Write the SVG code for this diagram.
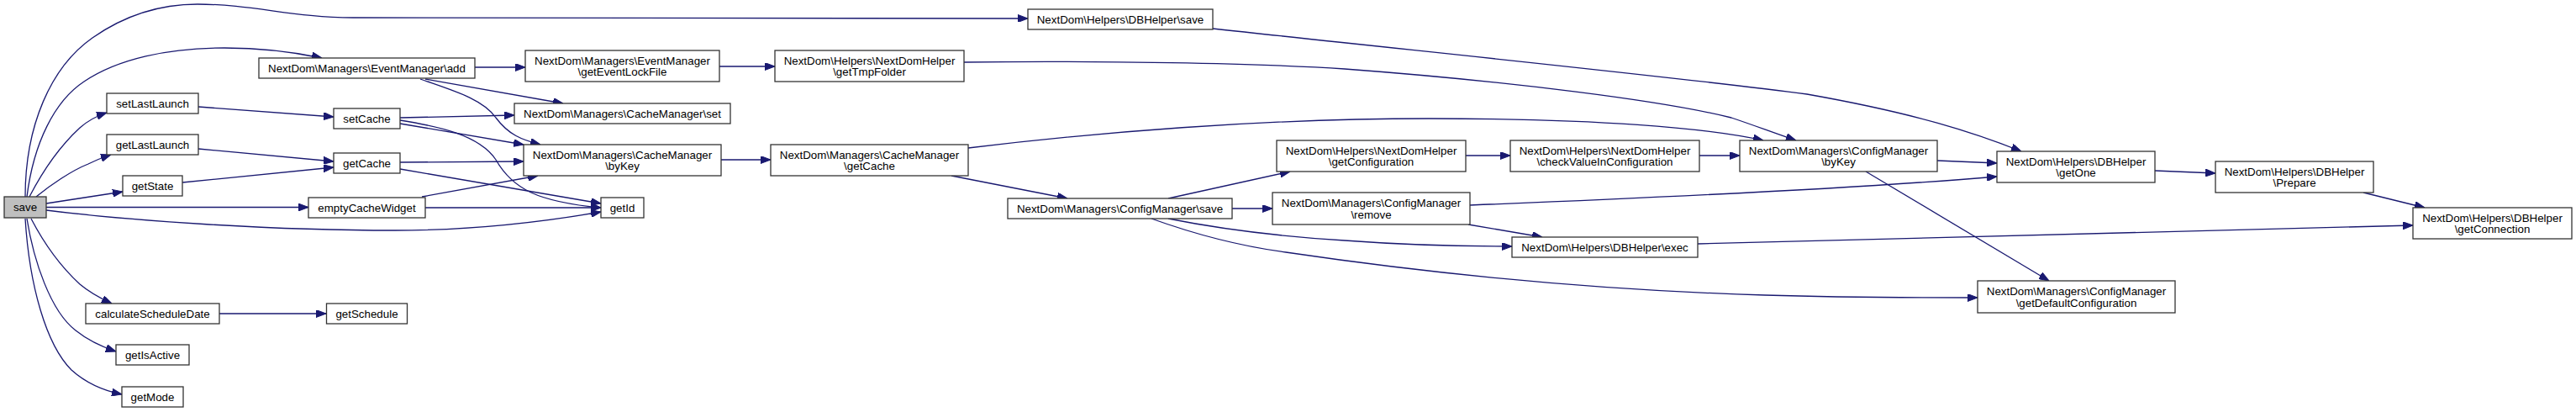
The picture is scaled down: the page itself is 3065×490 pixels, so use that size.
<svg xmlns="http://www.w3.org/2000/svg" width="3065" height="490" viewBox="0 0 3065 490">
<style>
.n rect{fill:#fff;stroke:#333;stroke-width:1.3}
.n.root rect{fill:#bfbfbf}
.n text{font-family:"Liberation Sans",Arial,Helvetica,sans-serif;font-size:13.33px;text-anchor:middle;fill:#000}
.e path{fill:none;stroke:#191970;stroke-width:1.3;marker-end:url(#a)}
</style>
<defs>
<marker id="a" markerWidth="12" markerHeight="9" refX="12" refY="4.5" orient="auto" markerUnits="userSpaceOnUse">
<path d="M0,0 L12,4.5 L0,9 z" fill="#191970" stroke="#191970" stroke-width="1"/>
</marker>
</defs>
<rect width="3065" height="490" fill="#fff"/>
<g id="edges" class="e">
<path d="M30,234 C30,150 60,80 110,45 C150,17 190,5 235,5 C300,5 350,21 420,21 L1223,22"/>
<path d="M32,234 C40,170 65,120 100,97 C140,70 200,57 267,57 C310,57 350,62 383,69"/>
<path d="M35,234 C50,205 70,175 95,152 C105,143 115,138 127,134"/>
<path d="M43,234 C60,220 85,203 105,195 C115,190 123,187 132,184"/>
<path d="M55,242 L146,228"/>
<path d="M55,246.5 L367,246.5"/>
<path d="M55,250 C150,262 320,274 470,274 C560,274 640,265 715,252"/>
<path d="M37,260 C50,285 70,315 95,338 C108,349 120,355 133,361"/>
<path d="M32,260 C40,310 60,370 90,393 C105,405 120,412 138,418"/>
<path d="M30,260 C35,340 55,410 85,440 C105,458 125,465 145,469"/>
<path d="M236,127 L397,139"/>
<path d="M236,177 L397,192"/>
<path d="M217,217 L397,199"/>
<path d="M261,373 L388,373"/>
<path d="M565,80 L625,80"/>
<path d="M506,94 L670,123"/>
<path d="M500,94 C540,108 575,118 590,140 C605,160 620,166 643,172"/>
<path d="M476,140 L612,137"/>
<path d="M476,147 L623,172"/>
<path d="M476,143 C520,150 570,160 590,190 C610,225 640,240 715,247"/>
<path d="M476,193 L623,192"/>
<path d="M476,201 L715,242"/>
<path d="M502,234 L640,209"/>
<path d="M506,247 L715,247"/>
<path d="M858,190 L917,190"/>
<path d="M856,79 L922,79"/>
<path d="M1147,74 C1300,72 1500,75 1600,82 C1800,97 1980,120 2060,140 C2090,150 2110,158 2137,167"/>
<path d="M1152,176 C1300,158 1500,141 1700,141 C1900,141 2030,152 2098,167"/>
<path d="M1132,209 L1270,236"/>
<path d="M1443,34 C1700,62 2000,92 2150,112 C2280,135 2350,158 2405,180"/>
<path d="M1390,236 L1535,204"/>
<path d="M1466,248 L1514,248"/>
<path d="M1390,260 C1450,272 1520,281 1600,286 C1680,292 1740,293 1799,293"/>
<path d="M1370,260 C1420,278 1470,292 1530,300 C1700,325 1900,345 2100,351 C2200,354 2280,354 2353,354"/>
<path d="M1744,185 L1797,185"/>
<path d="M2022,185 L2070,185"/>
<path d="M1749,244 C1950,236 2200,225 2376,210"/>
<path d="M1747,267 L1835,282"/>
<path d="M2020,290 L2871,268"/>
<path d="M2305,191 L2376,194"/>
<path d="M2220,204 L2438,334"/>
<path d="M2564,203 L2636,206"/>
<path d="M2812,229 L2885,247"/>
</g>
<g id="n_save" class="n root"><rect x="5" y="234" width="50" height="25"/><text x="30" y="251">save</text></g>
<g id="n_setLastLaunch" class="n"><rect x="127" y="111" width="109" height="24"/><text x="181.5" y="127.5">setLastLaunch</text></g>
<g id="n_getLastLaunch" class="n"><rect x="127" y="160" width="109" height="24"/><text x="181.5" y="176.5">getLastLaunch</text></g>
<g id="n_getState" class="n"><rect x="146" y="209" width="71" height="24"/><text x="181.5" y="225.5">getState</text></g>
<g id="n_calculateScheduleDate" class="n"><rect x="102" y="361" width="159" height="24"/><text x="181.5" y="377.5">calculateScheduleDate</text></g>
<g id="n_getIsActive" class="n"><rect x="138" y="410" width="87" height="24"/><text x="181.5" y="426.5">getIsActive</text></g>
<g id="n_getMode" class="n"><rect x="145" y="460" width="73" height="24"/><text x="181.5" y="476.5">getMode</text></g>
<g id="n_em_add" class="n"><rect x="308" y="69" width="257" height="24"/><text x="436.5" y="85.5">NextDom\Managers\EventManager\add</text></g>
<g id="n_setCache" class="n"><rect x="397" y="129" width="79" height="24"/><text x="436.5" y="145.5">setCache</text></g>
<g id="n_getCache" class="n"><rect x="397" y="182" width="79" height="24"/><text x="436.5" y="198.5">getCache</text></g>
<g id="n_emptyCacheWidget" class="n"><rect x="367" y="235" width="139" height="24"/><text x="436.5" y="251.5">emptyCacheWidget</text></g>
<g id="n_getSchedule" class="n"><rect x="388.5" y="361" width="96" height="24"/><text x="436.5" y="377.5">getSchedule</text></g>
<g id="n_em_getEventLockFile" class="n"><rect x="625" y="60" width="231" height="37"/><text x="740.5" y="76.5">NextDom\Managers\EventManager</text><text x="740.5" y="90">\getEventLockFile</text></g>
<g id="n_cm_set" class="n"><rect x="612" y="123" width="257" height="24"/><text x="740.5" y="139.5">NextDom\Managers\CacheManager\set</text></g>
<g id="n_cm_byKey" class="n"><rect x="623" y="172" width="235" height="37"/><text x="740.5" y="188.5">NextDom\Managers\CacheManager</text><text x="740.5" y="202">\byKey</text></g>
<g id="n_getId" class="n"><rect x="715" y="235" width="51" height="24"/><text x="740.5" y="251.5">getId</text></g>
<g id="n_ndh_getTmpFolder" class="n"><rect x="922" y="60" width="225" height="37"/><text x="1034.5" y="76.5">NextDom\Helpers\NextDomHelper</text><text x="1034.5" y="90">\getTmpFolder</text></g>
<g id="n_cm_getCache" class="n"><rect x="917" y="172" width="235" height="37"/><text x="1034.5" y="188.5">NextDom\Managers\CacheManager</text><text x="1034.5" y="202">\getCache</text></g>
<g id="n_db_save" class="n"><rect x="1223" y="11" width="220" height="24"/><text x="1333" y="27.5">NextDom\Helpers\DBHelper\save</text></g>
<g id="n_cfg_save" class="n"><rect x="1199" y="236" width="267" height="24"/><text x="1332.5" y="252.5">NextDom\Managers\ConfigManager\save</text></g>
<g id="n_ndh_getConfiguration" class="n"><rect x="1519" y="167" width="225" height="37"/><text x="1631.5" y="183.5">NextDom\Helpers\NextDomHelper</text><text x="1631.5" y="197">\getConfiguration</text></g>
<g id="n_cfg_remove" class="n"><rect x="1514" y="229" width="235" height="38"/><text x="1631.5" y="246">NextDom\Managers\ConfigManager</text><text x="1631.5" y="259.5">\remove</text></g>
<g id="n_ndh_checkValue" class="n"><rect x="1797" y="167" width="225" height="37"/><text x="1909.5" y="183.5">NextDom\Helpers\NextDomHelper</text><text x="1909.5" y="197">\checkValueInConfiguration</text></g>
<g id="n_db_exec" class="n"><rect x="1799" y="282" width="221" height="24"/><text x="1909.5" y="298.5">NextDom\Helpers\DBHelper\exec</text></g>
<g id="n_cfg_byKey" class="n"><rect x="2070" y="167" width="235" height="37"/><text x="2187.5" y="183.5">NextDom\Managers\ConfigManager</text><text x="2187.5" y="197">\byKey</text></g>
<g id="n_db_getOne" class="n"><rect x="2376" y="180" width="188" height="37"/><text x="2470" y="196.5">NextDom\Helpers\DBHelper</text><text x="2470" y="210">\getOne</text></g>
<g id="n_cfg_getDefault" class="n"><rect x="2353" y="334" width="235" height="38"/><text x="2470.5" y="351">NextDom\Managers\ConfigManager</text><text x="2470.5" y="364.5">\getDefaultConfiguration</text></g>
<g id="n_db_prepare" class="n"><rect x="2636" y="192" width="188" height="37"/><text x="2730" y="208.5">NextDom\Helpers\DBHelper</text><text x="2730" y="222">\Prepare</text></g>
<g id="n_db_getConnection" class="n"><rect x="2871" y="247" width="189" height="37"/><text x="2965.5" y="263.5">NextDom\Helpers\DBHelper</text><text x="2965.5" y="277">\getConnection</text></g>
</svg>
